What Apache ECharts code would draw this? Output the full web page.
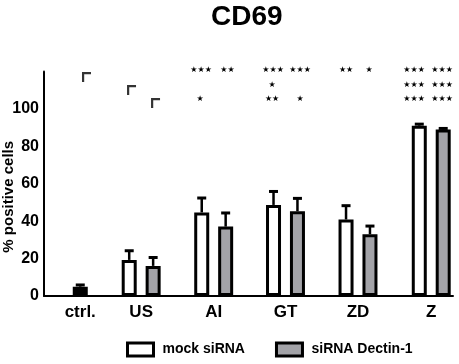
<!DOCTYPE html>
<html>
<head>
<meta charset="utf-8">
<script src="https://cdn.jsdelivr.net/npm/echarts@6/dist/echarts.min.js"></script>
<style>
  html, body { margin: 0; padding: 0; background: #fff; }
  #chart { width: 459px; height: 364px; }
</style>
</head>
<body>
<div id="chart"></div>
<script>
// categories and where each group sits on the x scale
const categories = ['ctrl.', 'US', 'AI', 'GT', 'ZD', 'Z'];
const groupPos = [0.5, 1.34, 2.34, 3.33, 4.33, 5.34];
const barShift = 0.165;

// % positive cells (US..Z)
const mockValues = [19.3, 44.7, 48.7, 40.9, 91.1];
const mockErrTop = [24.2, 52.4, 55.9, 48.3, 91.9];
const dectinValues = [16.1, 37.1, 45.3, 33.0, 89.0];
const dectinErrTop = [20.6, 44.4, 52.2, 37.4, 89.6];
const ctrlValue = 5.0;
const ctrlErrTop = 5.9;

// significance marks
const starX = [2.166, 2.53, 2.152, 3.159, 3.531, 3.145, 3.145, 3.531, 4.166, 4.483,
  5.103, 5.49, 5.103, 5.49, 5.103, 5.49];
const starY = [120.9, 120.9, 105.3, 120.9, 120.9, 112.8, 105.3, 105.3, 120.9, 120.9,
  120.9, 120.9, 112.8, 112.8, 105.3, 105.3];
const starText = ['★★★', '★★', '★', '★★★', '★★★', '★', '★★', '★', '★★', '★',
  '★★★', '★★★', '★★★', '★★★', '★★★', '★★★'];

// little corner brackets
const cornerPos = [[0.586, 117.1], [1.207, 110.2], [1.538, 103.2]];

const yTicks = [0, 20, 40, 60, 80, 100];

const FONT = '"Liberation Sans", Arial, sans-serif';
const GRAY = '#a3a3a8';

const chart = echarts.init(document.getElementById('chart'));

const groups = groupPos.slice(1);
const mockData = groups.map((g, i) => [g - barShift, mockValues[i]]);
const dectinData = groups.map((g, i) => [g + barShift, dectinValues[i]]);

const errData = [[groupPos[0], ctrlValue, ctrlErrTop]]
  .concat(groups.map((g, i) => [g - barShift, mockValues[i], mockErrTop[i]]))
  .concat(groups.map((g, i) => [g + barShift, dectinValues[i], dectinErrTop[i]]));

const option = {
  animation: false,
  title: {
    text: 'CD69',
    left: 206,
    top: -2,
    textStyle: { fontFamily: FONT, fontSize: 28, fontWeight: 'bold', color: '#000' }
  },
  legend: {
    data: ['mock siRNA', 'siRNA Dectin-1'],
    left: 121,
    top: 336.5,
    icon: 'rect',
    itemWidth: 26,
    itemHeight: 13,
    itemGap: 30,
    itemStyle: { borderColor: '#000', borderWidth: 3 },
    textStyle: {
      fontFamily: FONT, fontSize: 14, fontWeight: 'bold', color: '#000',
      padding: [0, 0, 0, 4]
    }
  },
  grid: { left: 44, right: 6, top: 71.6, bottom: 68, outerBoundsMode: 'none' },
  xAxis: {
    type: 'value',
    min: 0,
    max: 5.64,
    splitLine: { show: false },
    axisTick: { show: false },
    axisLine: { show: true, lineStyle: { color: '#000', width: 2 } },
    axisLabel: {
      customValues: groupPos,
      margin: 8,
      fontFamily: FONT,
      fontSize: 17,
      fontWeight: 'bold',
      color: '#000',
      formatter: v => {
        let best = 0;
        groupPos.forEach((p, i) => {
          if (Math.abs(p - v) < Math.abs(groupPos[best] - v)) best = i;
        });
        return categories[best];
      }
    }
  },
  yAxis: {
    type: 'value',
    min: 0,
    max: 120,
    interval: 20,
    name: '% positive cells',
    nameLocation: 'middle',
    nameGap: 28,
    nameMoveOverlap: false,
    nameTextStyle: {
      fontFamily: FONT, fontSize: 15, fontWeight: 'bold', color: '#000',
      padding: [0, 26, 0, 0]
    },
    splitLine: { show: false },
    axisTick: { show: false },
    axisLine: { show: true, lineStyle: { color: '#000', width: 2 } },
    axisLabel: {
      margin: 5,
      fontFamily: FONT,
      fontSize: 16,
      fontWeight: 'bold',
      color: '#000',
      formatter: v => (yTicks.indexOf(v) >= 0 ? String(v) : '')
    }
  },
  series: [
    {
      name: 'mock siRNA',
      type: 'bar',
      barWidth: 15,
      barGap: '-100%',
      data: mockData,
      itemStyle: { color: '#fff', borderColor: '#000', borderWidth: 3 }
    },
    {
      name: 'siRNA Dectin-1',
      type: 'bar',
      barWidth: 15,
      barGap: '-100%',
      data: dectinData,
      itemStyle: { color: GRAY, borderColor: '#000', borderWidth: 3 }
    },
    {
      name: 'ctrl',
      type: 'bar',
      barWidth: 15,
      barGap: '-100%',
      data: [[groupPos[0], ctrlValue]],
      itemStyle: { color: '#000', borderColor: '#000', borderWidth: 3 }
    },
    {
      // error bars (upper only)
      type: 'custom',
      data: errData,
      z: 5,
      renderItem: (params, api) => {
        const x = api.value(0);
        const lo = api.coord([x, api.value(1)]);
        const hi = api.coord([x, api.value(2)]);
        return {
          type: 'group',
          children: [
            { type: 'line', shape: { x1: lo[0], y1: lo[1], x2: hi[0], y2: hi[1] },
              style: { stroke: '#000', lineWidth: 2.5 } },
            { type: 'line', shape: { x1: hi[0] - 4.5, y1: hi[1], x2: hi[0] + 4.5, y2: hi[1] },
              style: { stroke: '#000', lineWidth: 3 } }
          ]
        };
      }
    },
    {
      // significance stars
      type: 'custom',
      data: starX.map((x, i) => [x, starY[i]]),
      renderItem: (params, api) => {
        const p = api.coord([api.value(0), api.value(1)]);
        return {
          type: 'text',
          x: p[0],
          y: p[1],
          style: {
            text: starText[params.dataIndex],
            fontFamily: '"DejaVu Sans"',
            fontSize: 8,
            fill: '#000',
            align: 'center',
            verticalAlign: 'middle'
          }
        };
      }
    },
    {
      type: 'scatter',
      clip: false,
      symbol: 'path://M0,0H9V2.2H2.2V10H0Z',
      symbolSize: [9, 10],
      itemStyle: { color: '#000' },
      data: cornerPos
    }
  ]
};

chart.setOption(option);
</script>
</body>
</html>
